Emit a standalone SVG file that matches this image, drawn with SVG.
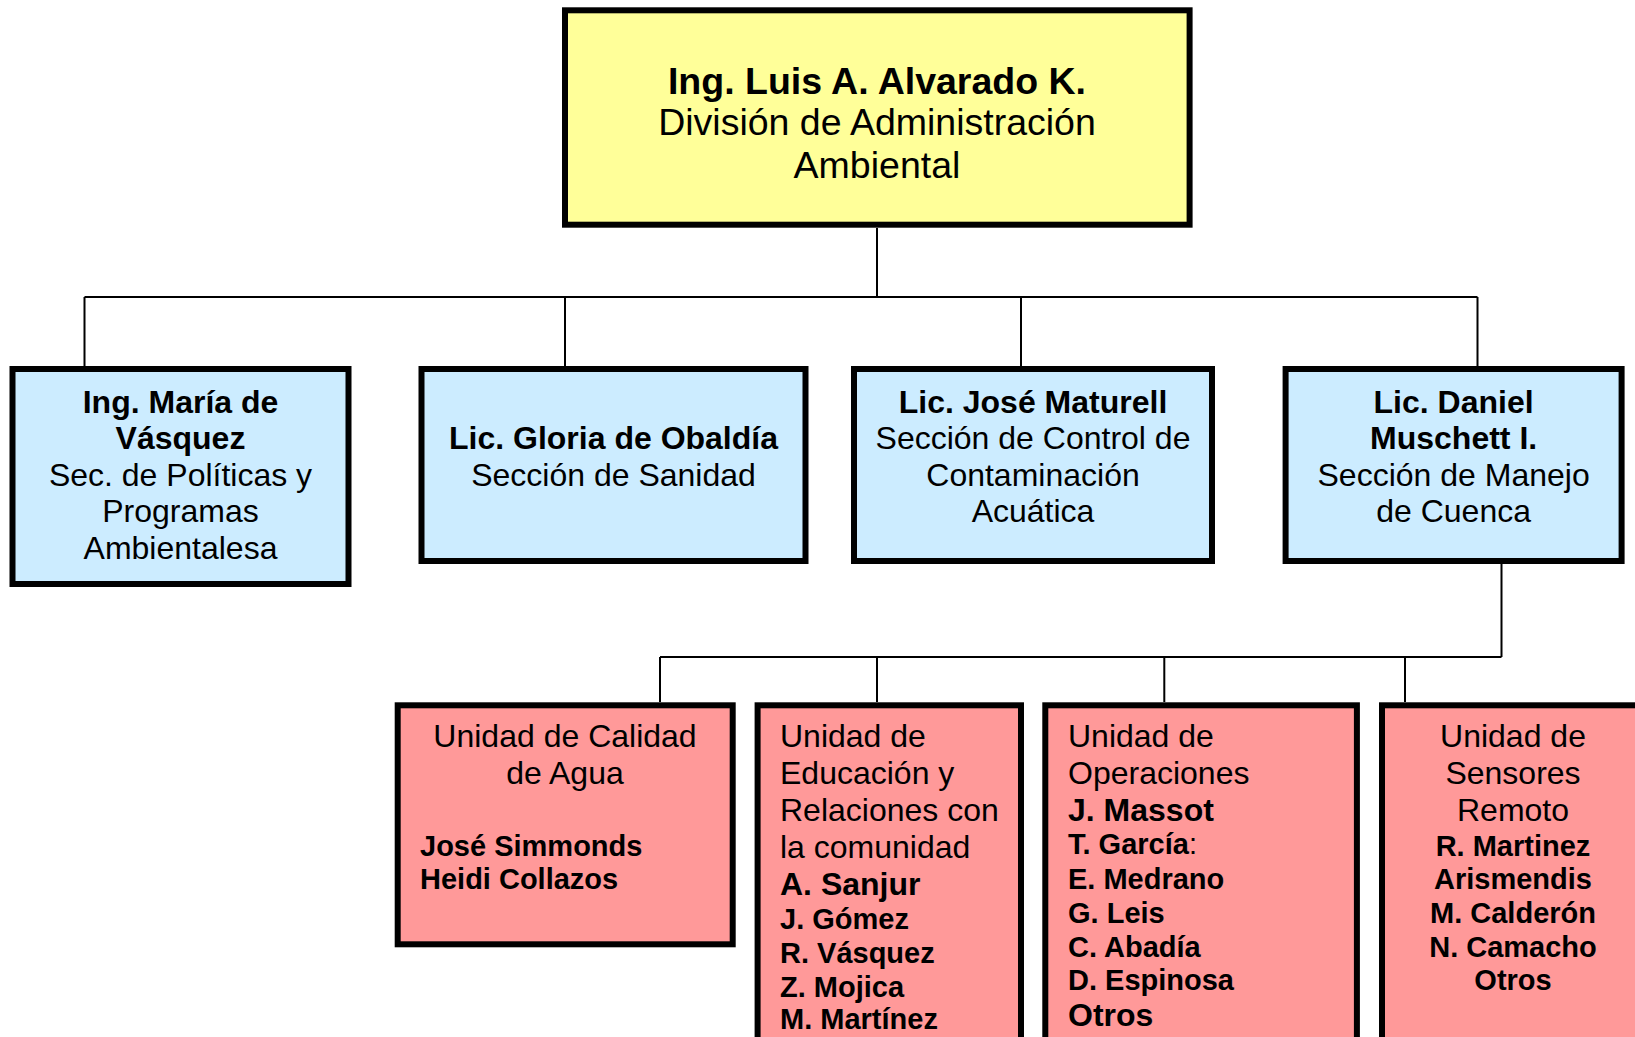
<svg xmlns="http://www.w3.org/2000/svg" width="1635" height="1037" viewBox="0 0 1635 1037">
<style>
.box{stroke:#000;stroke-width:6}
.top{fill:#FFFF99}
.sec{fill:#CCECFF}
.uni{fill:#FF9999}
.conn{fill:none;stroke:#000;stroke-width:2}
text{font-family:"Liberation Sans",Arial,sans-serif;fill:#000}
.c{text-anchor:middle}
.r{font-size:32px}
.b{font-size:32px;font-weight:bold}
.n{font-size:29px;font-weight:bold}
.tr{font-size:37.5px}
.tb{font-size:37.5px;font-weight:bold}
</style>
<rect width="1635" height="1037" fill="#fff"/>
<g id="connectors">
<path class="conn" d="M877 228V297M84.5 297H1477.5M84.5 297V366M565 297V366M1021 297V366M1477.5 297V366"/>
<path class="conn" d="M1501.5 564V657M660 657H1501.5M660 657V702M877 657V702M1164.3 657V702M1405 657V702"/>
</g>
<g id="node-director">
<rect class="box top" x="565" y="10.3" width="624.6" height="214.4"/>
<text class="c tb" x="877" y="94">Ing. Luis A. Alvarado K.</text>
<text class="c tr" x="877" y="135">División de Administración</text>
<text class="c tr" x="877" y="178">Ambiental</text>
</g>
<g id="node-politicas">
<rect class="box sec" x="12.5" y="369" width="336" height="215"/>
<text class="c b" x="180.5" y="412.5">Ing. María de</text>
<text class="c b" x="180.5" y="449">Vásquez</text>
<text class="c r" x="180.5" y="485.5">Sec. de Políticas y</text>
<text class="c r" x="180.5" y="522">Programas</text>
<text class="c r" x="180.5" y="558.5">Ambientalesa</text>
</g>
<g id="node-sanidad">
<rect class="box sec" x="421.5" y="369" width="384" height="192"/>
<text class="c b" x="613.5" y="449">Lic. Gloria de Obaldía</text>
<text class="c r" x="613.5" y="485.5">Sección de Sanidad</text>
</g>
<g id="node-contaminacion">
<rect class="box sec" x="854" y="369" width="358" height="192"/>
<text class="c b" x="1033" y="412.5">Lic. José Maturell</text>
<text class="c r" x="1033" y="449">Sección de Control de</text>
<text class="c r" x="1033" y="485.5">Contaminación</text>
<text class="c r" x="1033" y="522">Acuática</text>
</g>
<g id="node-cuenca">
<rect class="box sec" x="1285.6" y="369" width="336" height="192"/>
<text class="c b" x="1453.6" y="412.5">Lic. Daniel</text>
<text class="c b" x="1453.6" y="449">Muschett I.</text>
<text class="c r" x="1453.6" y="485.5">Sección de Manejo</text>
<text class="c r" x="1453.6" y="522">de Cuenca</text>
</g>
<g id="node-calidad">
<rect class="box uni" x="397.7" y="705.3" width="335" height="239"/>
<text class="c r" x="565" y="747">Unidad de Calidad</text>
<text class="c r" x="565" y="784">de Agua</text>
<text class="n" x="420" y="856">José Simmonds</text>
<text class="n" x="420" y="889">Heidi Collazos</text>
</g>
<g id="node-educacion">
<rect class="box uni" x="757.6" y="705.3" width="263.4" height="400"/>
<text class="r" x="780" y="747">Unidad de</text>
<text class="r" x="780" y="784">Educación y</text>
<text class="r" x="780" y="821">Relaciones con</text>
<text class="r" x="780" y="858">la comunidad</text>
<text class="b" x="780" y="895">A. Sanjur</text>
<text class="n" x="780" y="929">J. Gómez</text>
<text class="n" x="780" y="963">R. Vásquez</text>
<text class="n" x="780" y="997">Z. Mojica</text>
<text class="n" x="780" y="1029">M. Martínez</text>
</g>
<g id="node-operaciones">
<rect class="box uni" x="1045.3" y="705.3" width="311.6" height="400"/>
<text class="r" x="1068" y="747">Unidad de</text>
<text class="r" x="1068" y="784">Operaciones</text>
<text class="b" x="1068" y="821">J. Massot</text>
<text class="n" x="1068" y="854">T. García<tspan font-weight="normal">:</tspan></text>
<text class="n" x="1068" y="889">E. Medrano</text>
<text class="n" x="1068" y="923">G. Leis</text>
<text class="n" x="1068" y="957">C. Abadía</text>
<text class="n" x="1068" y="990">D. Espinosa</text>
<text class="b" x="1068" y="1026">Otros</text>
</g>
<g id="node-sensores">
<rect class="box uni" x="1382" y="705.3" width="262" height="400"/>
<text class="c r" x="1513" y="747">Unidad de</text>
<text class="c r" x="1513" y="784">Sensores</text>
<text class="c r" x="1513" y="821">Remoto</text>
<text class="c n" x="1513" y="856">R. Martinez</text>
<text class="c n" x="1513" y="889">Arismendis</text>
<text class="c n" x="1513" y="923">M. Calderón</text>
<text class="c n" x="1513" y="957">N. Camacho</text>
<text class="c n" x="1513" y="990">Otros</text>
</g>
</svg>
